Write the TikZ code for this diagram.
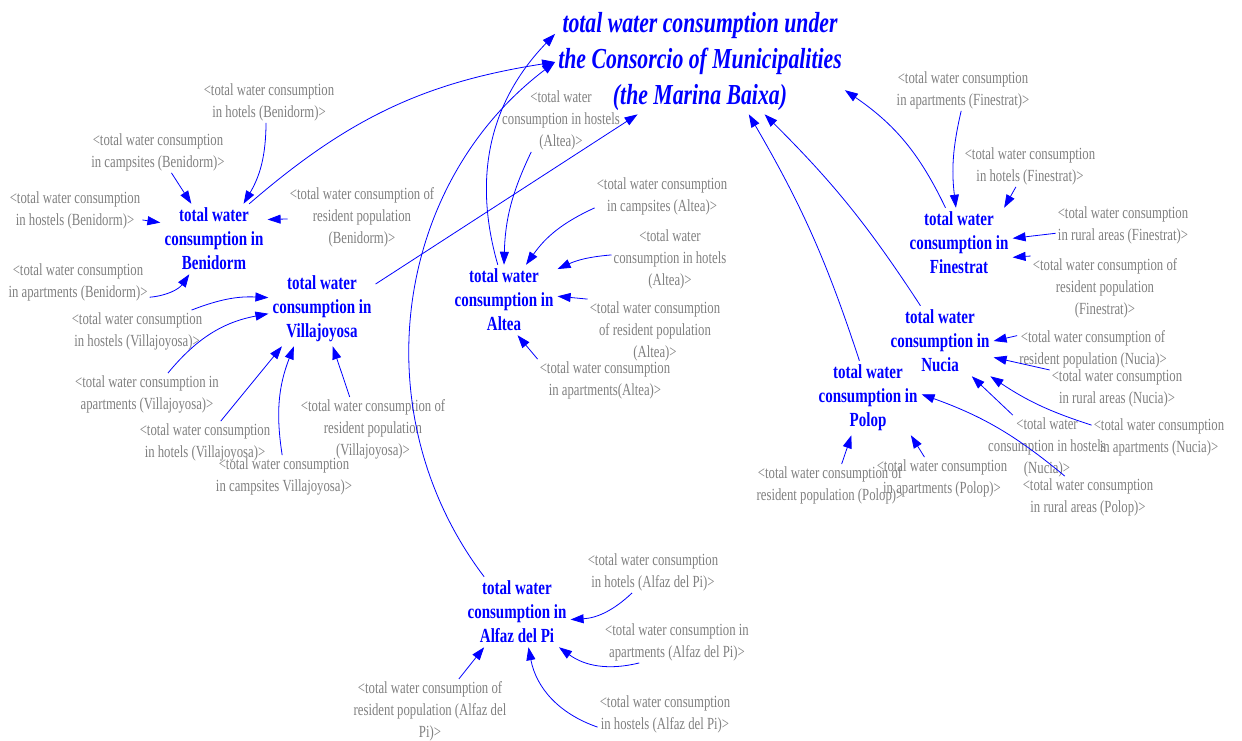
\documentclass[tikz,border=0pt]{standalone}
\usepackage{fontspec}
\setmainfont{Liberation Serif}[FakeStretch=0.75]
\usetikzlibrary{arrows.meta}
\definecolor{ghostgray}{RGB}{128,128,128}

\begin{document}
\begin{tikzpicture}[x=1pt, y=-1pt,
  grandtotal/.style={text=blue, align=center, inner sep=3pt, font=\fontsize{29}{36}\selectfont\bfseries\itshape},
  subtotal/.style={text=blue, align=center, inner sep=4pt, font=\fontsize{20}{24}\selectfont\bfseries},
  ghost/.style={text=ghostgray, align=center, inner sep=2pt, font=\fontsize{17}{22}\selectfont},
  link/.style={blue, line width=0.8pt, -{Triangle[length=13pt,width=9pt]}}
]
\useasboundingbox (0,0) rectangle (1242,740);

\node[grandtotal] at (700,62) (marina) {total water consumption under\\the Consorcio of Municipalities\\(the Marina Baixa)};

\node[subtotal] at (214,239) (benidorm) {total water\\consumption in\\Benidorm};
\node[subtotal] at (322,309) (villajoyosa) {total water\\consumption in\\Villajoyosa};
\node[subtotal] at (504,300) (altea) {total water\\consumption in\\Altea};
\node[subtotal] at (959,243) (finestrat) {total water\\consumption in\\Finestrat};
\node[subtotal] at (940,341) (nucia) {total water\\consumption in\\Nucia};
\node[subtotal] at (868,398) (polop) {total water\\consumption in\\Polop};
\node[subtotal] at (517,612) (alfaz) {total water\\consumption in\\Alfaz del Pi};

% Benidorm
\node[ghost] at (269,102) (hotels_benidorm) {<total water consumption\\in hotels (Benidorm)>};
\node[ghost] at (158,152) (campsites_benidorm) {<total water consumption\\in campsites (Benidorm)>};
\node[ghost] at (75,210) (hostels_benidorm) {<total water consumption\\in hostels (Benidorm)>};
\node[ghost] at (362,217) (resident_benidorm) {<total water consumption of\\resident population\\(Benidorm)>};
\node[ghost] at (78,282) (apartments_benidorm) {<total water consumption\\in apartments (Benidorm)>};

% Villajoyosa
\node[ghost] at (137,331) (hostels_villajoyosa) {<total water consumption\\in hostels (Villajoyosa)>};
\node[ghost] at (147,394) (apartments_villajoyosa) {<total water consumption in\\apartments (Villajoyosa)>};
\node[ghost] at (205,442) (hotels_villajoyosa) {<total water consumption\\in hotels (Villajoyosa)>};
\node[ghost] at (284,476) (campsites_villajoyosa) {<total water consumption\\in campsites Villajoyosa)>};
\node[ghost] at (373,429) (resident_villajoyosa) {<total water consumption of\\resident population\\(Villajoyosa)>};

% Altea
\node[ghost] at (561,120) (hostels_altea) {<total water\\consumption in hostels\\(Altea)>};
\node[ghost] at (662,196) (campsites_altea) {<total water consumption\\in campsites (Altea)>};
\node[ghost] at (670,259) (hotels_altea) {<total water\\consumption in hotels\\(Altea)>};
\node[ghost] at (655,331) (resident_altea) {<total water consumption\\of resident population\\(Altea)>};
\node[ghost] at (605,380) (apartments_altea) {<total water consumption\\in apartments(Altea)>};

% Finestrat
\node[ghost] at (963,90) (apartments_finestrat) {<total water consumption\\in apartments (Finestrat)>};
\node[ghost] at (1030,166) (hotels_finestrat) {<total water consumption\\in hotels (Finestrat)>};
\node[ghost] at (1123,225) (rural_finestrat) {<total water consumption\\in rural areas (Finestrat)>};
\node[ghost] at (1105,288) (resident_finestrat) {<total water consumption of\\resident population\\(Finestrat)>};

% Nucia
\node[ghost] at (1093,349) (resident_nucia) {<total water consumption of\\resident population (Nucia)>};
\node[ghost] at (1117,388) (rural_nucia) {<total water consumption\\in rural areas (Nucia)>};
\node[ghost] at (1159,437) (apartments_nucia) {<total water consumption\\in apartments (Nucia)>};
\node[ghost] at (1047,447) (hostels_nucia) {<total water\\consumption in hostels\\(Nucia)>};

% Polop
\node[ghost] at (830,485) (resident_polop) {<total water consumption of\\resident population (Polop)>};
\node[ghost] at (942,478) (apartments_polop) {<total water consumption\\in apartments (Polop)>};
\node[ghost] at (1088,497) (rural_polop) {<total water consumption\\in rural areas (Polop)>};

% Alfaz del Pi
\node[ghost] at (653,572) (hotels_alfaz) {<total water consumption\\in hotels (Alfaz del Pi)>};
\node[ghost] at (677,642) (apartments_alfaz) {<total water consumption in\\apartments (Alfaz del Pi)>};
\node[ghost] at (430,711) (resident_alfaz) {<total water consumption of\\resident population (Alfaz del\\Pi)>};
\node[ghost] at (665,714) (hostels_alfaz) {<total water consumption\\in hostels (Alfaz del Pi)>};

% arrows into the municipalities
\draw[link, bend left=15] (hotels_benidorm.262) to (benidorm.50);
\draw[link] (campsites_benidorm) -- (benidorm);
\draw[link] (hostels_benidorm) -- (benidorm.163);
\draw[link] (resident_benidorm) -- (benidorm.20);
\draw[link, bend right=25] (apartments_benidorm.-12) to (benidorm.235);

\draw[link, bend left=12] (hostels_villajoyosa.21) to (villajoyosa.168);
\draw[link, bend left=20] (apartments_villajoyosa.45) to (villajoyosa.185);
\draw[link] (hotels_villajoyosa.53) -- (villajoyosa.223);
\draw[link, bend left=15] (campsites_villajoyosa.95) to (villajoyosa.233);
\draw[link] (resident_villajoyosa.126) -- (villajoyosa.286);

\draw[link, bend right=12] (hostels_altea.227) to (altea.north);
\draw[link, bend right=15] (campsites_altea.190) to (altea.58);
\draw[link, bend right=10] (hotels_altea.176) to (altea.30);
\draw[link] (resident_altea.north west) -- (altea.4);
\draw[link] (apartments_altea.north west) -- (altea.291);

\draw[link, bend right=10] (apartments_finestrat.265) to (finestrat.95);
\draw[link] (hotels_finestrat.236) -- (finestrat.38);
\draw[link] (rural_finestrat.187) -- (finestrat.5);
\draw[link] (resident_finestrat.north west) -- (finestrat.-15);

\draw[link] (resident_nucia.170) -- (nucia.east);
\draw[link] (rural_nucia.165) -- (nucia.-17);
\draw[link, bend left=8] (apartments_nucia.170) to (nucia.-35);
\draw[link] (hostels_nucia.137) -- (nucia.-48);

\draw[link] (resident_polop.61) -- (polop.246);
\draw[link] (apartments_polop.130) -- (polop.-41);
\draw[link, bend right=10] (rural_polop.138) to (polop.4);

\draw[link, bend left=20] (hotels_alfaz.225) to (alfaz.-8);
\draw[link, bend left=25] (apartments_alfaz.209) to (alfaz.-40);
\draw[link] (resident_alfaz.48) -- (alfaz.227);
\draw[link, bend left=30] (hostels_alfaz.191) to (alfaz.288);

% arrows into the Marina Baixa total
\draw[link, bend left=16] (benidorm.45) to (marina.180);
\draw[link] (villajoyosa.25) -- (marina.220);
\draw[link, bend left=30] (altea.100) to (marina.169);
\draw[link, bend left=45] (alfaz.133) to (marina.180);
\draw[link, bend right=15] (finestrat.111) to (marina.-11);
\draw[link, bend right=6] (nucia.119) to (marina.-39);
\draw[link, bend right=6] (polop.103) to (marina.-47);
\end{tikzpicture}
\end{document}
